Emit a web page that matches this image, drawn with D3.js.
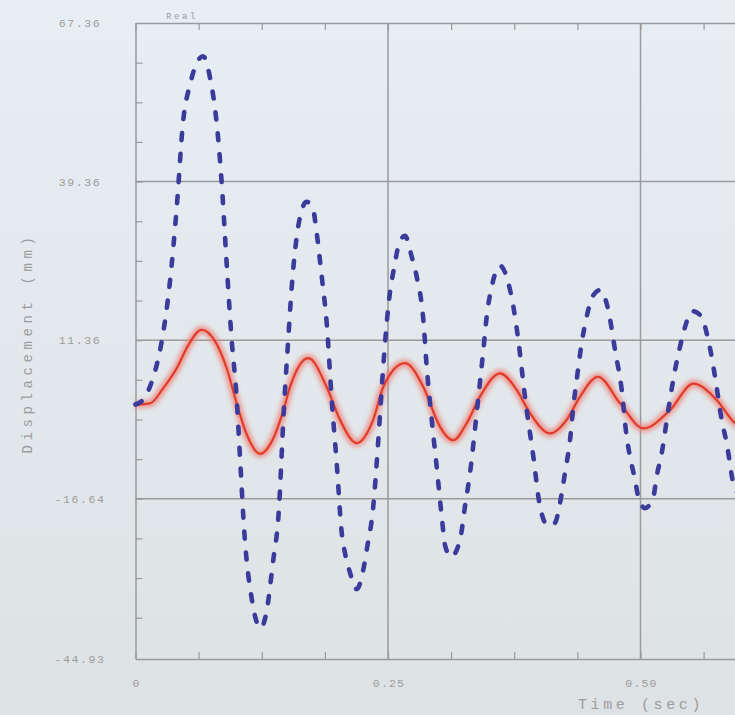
<!DOCTYPE html>
<html>
<head>
<meta charset="utf-8">
<script src="https://cdn.jsdelivr.net/npm/d3@7"></script>
<style>
body { margin: 0; overflow: hidden; background: #e3e9ee; }
text { font-family: "Liberation Mono", "DejaVu Sans Mono", monospace; fill: #9c9c9c; }
</style>
</head>
<body>
<script>
let width = 735
let height = 715

// tick labels
let yTicks = [67.36, 39.36, 11.36, -16.64, -44.93]
let xTicks = [0, 0.25, 0.5]
let xTickLabels = ["0", "0.25", "0.50"]

// dashed blue series (time in s, displacement in mm)
let blueTime = [0, 0.009, 0.016, 0.026, 0.034, 0.041, 0.047, 0.054, 0.067, 0.074, 0.080, 0.085,
  0.090, 0.095, 0.100, 0.1035, 0.108, 0.115, 0.124, 0.130, 0.136, 0.1416, 0.147, 0.151, 0.1547,
  0.1596, 0.163, 0.1695, 0.176, 0.1794, 0.1844, 0.1893, 0.1943, 0.1992, 0.2042, 0.2074, 0.2124,
  0.219, 0.2255, 0.2289, 0.2354, 0.2404, 0.2453, 0.2503, 0.2569, 0.2602, 0.2668, 0.2735, 0.2784,
  0.285, 0.2883, 0.2933, 0.2982, 0.3032, 0.3064, 0.3124, 0.3213, 0.3262, 0.3312, 0.3378, 0.3444,
  0.3477, 0.3527, 0.3609, 0.3691, 0.3741, 0.379, 0.3856, 0.3939, 0.4005, 0.4084, 0.4153, 0.4203,
  0.4252, 0.4302, 0.4335, 0.4368, 0.4418, 0.4467, 0.4533, 0.4599, 0.4681, 0.4748, 0.4814, 0.4863,
  0.4896, 0.4946, 0.4978, 0.5045, 0.5127, 0.516, 0.521, 0.5275, 0.5342, 0.5391, 0.5441, 0.551,
  0.5606, 0.5655, 0.5705, 0.5738, 0.5804, 0.5853, 0.5919, 0.598]
let blueDisp = [0, 1.2, 4.0, 11.2, 21.5, 35.2, 49.7, 56.5, 61.5, 57.5, 50.3, 40.0,
  25.6, 11.9, 1.5, -9.4, -23.2, -34.2, -39.5, -36.3, -28.0, -19.5, -0.6, 10.9, 20.8,
  29.6, 33.2, 35.8, 34.3, 30.3, 22.6, 14.4, 0.8, -10.3, -22.7, -26.2, -29.7,
  -32.6, -29.2, -25.7, -18.0, -6.3, 6.7, 17.3, 25.0, 27.9, 29.8, 26.1, 22.6,
  14.9, 6.7, -2.7, -11.0, -19.8, -24.8, -26.9, -23.9, -18.0, -12.1, -1.5, 9.6,
  15.5, 20.8, 24.5, 21.5, 17.3, 11.4, 1.4, -9.2, -18.0, -21.4, -20.9, -17.4,
  -12.1, -6.3, -0.4, 4.3, 10.9, 15.5, 19.3, 20.2, 16.7, 9.6, 2.6, -5.7,
  -9.2, -13.3, -16.3, -18.3, -16.3, -12.7, -8.6, -1.0, 6.1, 10.2, 13.7, 16.5,
  15.5, 12.6, 8.4, 4.9, -2.7, -6.8, -13.9, -16.0]

// solid red series
let redTime = [0, 0.0144, 0.0275, 0.0408, 0.0523, 0.0655, 0.0787, 0.0903, 0.1002, 0.1101, 0.1233,
  0.1364, 0.1463, 0.153, 0.1711, 0.1893, 0.2025, 0.219, 0.2353, 0.2453, 0.2668, 0.285, 0.2982,
  0.3015, 0.3147, 0.3279, 0.3411, 0.3609, 0.3774, 0.3906, 0.4104, 0.4269, 0.4401, 0.4579, 0.4797,
  0.5028, 0.5292, 0.5523, 0.5754, 0.5936, 0.600]
let redDisp = [0, 0.2, 2.9, 6.4, 10.5, 13.2, 11.2, 6.4, 0.2, -5.3, -8.7,
  -6.0, -1.1, 3.1, 8.2, 3.1, -2.7, -6.8, -2.7, 3.1, 7.3, 3.1, -2.7,
  -3.9, -6.3, -3.3, 1.4, 5.5, 2.6, -1.5, -5.1, -2.7, 1.4, 4.9, 0.2,
  -4.2, -1.0, 3.7, 0.8, -3.3, -4.0]

let svg = d3.select("body")
    .append("svg")
    .attr("width", width)
    .attr("height", height)

let defs = svg.append("defs")
let grad = defs.append("linearGradient").attr("id", "bg").attr("x1", 0).attr("y1", 0).attr("x2", 0).attr("y2", 1)
grad.append("stop").attr("offset", "0%").attr("stop-color", "#e7eef4")
grad.append("stop").attr("offset", "100%").attr("stop-color", "#dde2e4")
defs.append("filter").attr("id", "glow").attr("x", "-10%").attr("y", "-50%").attr("width", "120%").attr("height", "200%")
    .append("feGaussianBlur").attr("stdDeviation", 2.2)
defs.append("filter").attr("id", "soft")
    .append("feGaussianBlur").attr("stdDeviation", 0.5)

svg.append("rect").attr("width", width).attr("height", height).attr("fill", "url(#bg)")

let x = d3.scaleLinear().domain([0, 0.75]).range([135.5, 135.5 + 0.75 * 1010])
let y = d3.scaleLinear().domain([-44.93, 67.36]).range([659, 23])

let g = svg.append("g").attr("filter", "url(#soft)")

// grid
g.selectAll(".vgrid").data([0.25, 0.5, 0.75]).enter().append("line")
    .attr("x1", d => x(d)).attr("x2", d => x(d))
    .attr("y1", y(67.36)).attr("y2", y(-44.93))
    .attr("stroke", "#9a9a9a").attr("stroke-width", 1.5)
g.selectAll(".hgrid").data(yTicks.slice(1, 4)).enter().append("line")
    .attr("x1", x(0)).attr("x2", width + 10)
    .attr("y1", d => y(d)).attr("y2", d => y(d))
    .attr("stroke", "#9a9a9a").attr("stroke-width", 1.5)

// minor ticks
let xMinor = d3.range(0, 0.76, 0.0625)
let yMinor = d3.range(1, 16).map(i => 67.36 - i * 7).filter(v => v > -44.9)

let styleAxis = sel => {
    sel.select(".domain").attr("stroke", "#9a9a9a").attr("stroke-width", 1.5)
    sel.selectAll(".tick line").attr("stroke", "#9a9a9a").attr("stroke-width", 1.2)
    sel.selectAll(".tick text").remove()
}

g.append("g").attr("transform", `translate(0,${y(-44.93)})`)
    .call(d3.axisBottom(x).tickValues(xMinor).tickSize(-7).tickSizeOuter(0))
    .call(styleAxis)
g.append("g").attr("transform", `translate(0,${y(67.36)})`)
    .call(d3.axisTop(x).tickValues(xMinor).tickSize(-7).tickSizeOuter(0))
    .call(styleAxis)
g.append("g").attr("transform", `translate(${x(0)},0)`)
    .call(d3.axisLeft(y).tickValues(yMinor).tickSize(-7).tickSizeOuter(0))
    .call(styleAxis)

// tick labels
svg.selectAll(".ylab").data(yTicks).enter().append("text")
    .attr("x", 80).attr("y", d => y(d) + 4)
    .attr("text-anchor", "middle")
    .attr("font-size", 11.5).attr("letter-spacing", 1.6)
    .text(d => d.toFixed(2))
svg.selectAll(".xlab").data(xTicks).enter().append("text")
    .attr("x", d => x(d) + 1).attr("y", 687)
    .attr("text-anchor", "middle")
    .attr("font-size", 11.5).attr("letter-spacing", 1.2)
    .text((d, i) => xTickLabels[i])

svg.append("text").attr("x", 166).attr("y", 19)
    .attr("font-size", 9).attr("letter-spacing", 2.6)
    .text("Real")

svg.append("text").attr("x", 641).attr("y", 709)
    .attr("text-anchor", "middle")
    .attr("font-size", 15).attr("letter-spacing", 3.6)
    .attr("fill", "#a2a2a2")
    .text("Time (sec)")

svg.append("text")
    .attr("transform", "translate(32,343) rotate(-90)")
    .attr("text-anchor", "middle")
    .attr("font-size", 14).attr("letter-spacing", 4.6)
    .attr("fill", "#a6a6a6")
    .text("Displacement (mm)")

// series
let line = d3.line()
    .x(d => x(d[0]))
    .y(d => y(d[1]))
    .curve(d3.curveMonotoneX)

let red = redTime.map((t, i) => [t, redDisp[i]])
let blue = blueTime.map((t, i) => [t, blueDisp[i]])

svg.append("path").attr("d", line(red))
    .attr("fill", "none").attr("stroke", "#f07a70").attr("stroke-opacity", 0.7)
    .attr("stroke-width", 8).attr("filter", "url(#glow)")
svg.append("path").attr("d", line(red))
    .attr("fill", "none").attr("stroke", "#e23b2a")
    .attr("stroke-width", 2.2).attr("filter", "url(#soft)")

svg.append("path").attr("d", line(blue))
    .attr("fill", "none").attr("stroke", "#3b3b9c")
    .attr("stroke-width", 4.6)
    .attr("stroke-linecap", "round")
    .attr("stroke-dasharray", "7,14")
    .attr("filter", "url(#soft)")
</script>
</body>
</html>
